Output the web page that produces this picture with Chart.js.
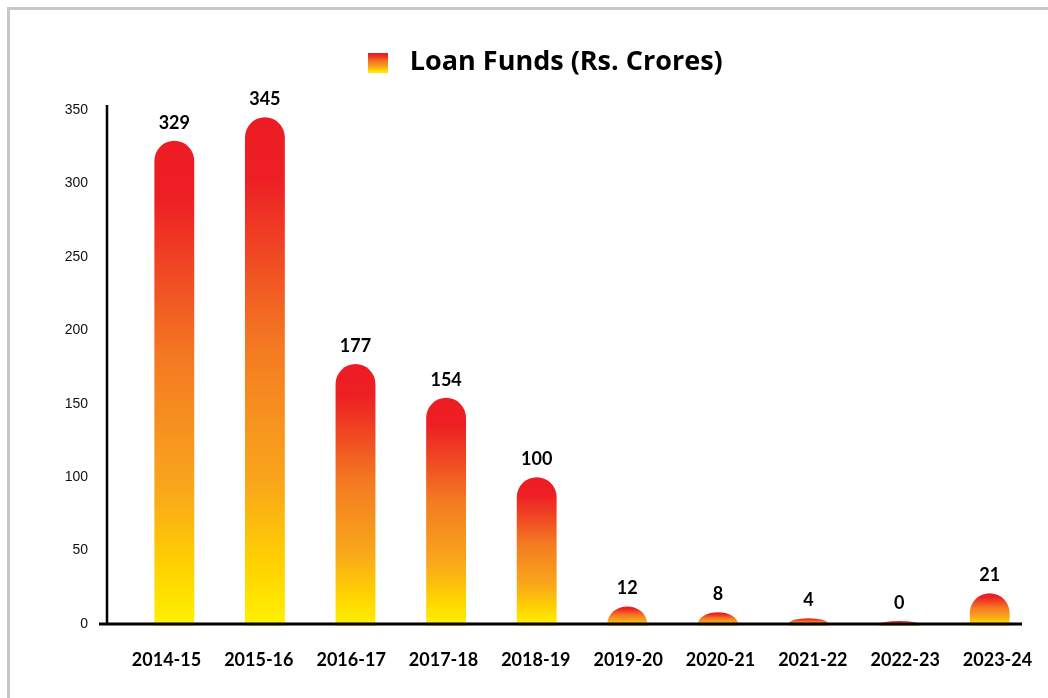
<!DOCTYPE html>
<html>
<head>
<meta charset="utf-8">
<title>Loan Funds</title>
<script src="https://cdn.jsdelivr.net/npm/chart.js@4.4.1/dist/chart.umd.min.js"></script>
<style>
  html, body { margin: 0; padding: 0; background: #fff; }
  #wrap { position: relative; width: 1048px; height: 698px; }
  #frame { position: absolute; left: 7px; top: 7px; right: 0; bottom: 0;
           border-left: 3px solid #c8c8c8; border-top: 3px solid #c8c8c8; }
  canvas { position: absolute; left: 0; top: 0; }
</style>
</head>
<body>
<div id="wrap">
  <div id="frame"></div>
  <canvas id="chart" width="1048" height="698"></canvas>
</div>
<script>
// Datos del gráfico
var years = ["2014-15", "2015-16", "2016-17", "2017-18", "2018-19", "2019-20", "2020-21", "2021-22", "2022-23", "2023-24"];
var loanFunds = [329, 345, 177, 154, 100, 12, 8, 4, 0, 21];
var yTicks = [0, 50, 100, 150, 200, 250, 300, 350];

var seriesName = "Loan Funds (Rs. Crores)";
var gradStops = [
    [0, "#ed1c24"],
    [0.12, "#ed1f24"],
    [0.45, "#f47a22"],
    [0.72, "#f9a71b"],
    [0.88, "#ffd200"],
    [1, "#fff200"]
];

function fillGradient(g) {
    gradStops.forEach(function (s) { g.addColorStop(s[0], s[1]); });
    return g;
}

// Cuadro de la leyenda con degradado
var legendBox = document.createElement("canvas");
legendBox.width = 20;
legendBox.height = 20;
var lctx = legendBox.getContext("2d");
lctx.fillStyle = fillGradient(lctx.createLinearGradient(0, 0, 0, 20));
lctx.fillRect(0, 0, 20, 20);

// Barras con tope redondeado (elíptico si la barra es baja)
var domeBars = {
    id: "domeBars",
    beforeDatasetDraw: function (chart, args) {
        var c = chart.ctx;
        args.meta.data.forEach(function (bar) {
            var p = bar.getProps(["x", "y", "base", "width"], true);
            var rx = p.width / 2;
            var top = Math.min(p.y, p.base);
            var ry = Math.min(rx, p.base - top);
            var bottom = p.base + 2;
            c.save();
            c.fillStyle = fillGradient(c.createLinearGradient(0, top, 0, bottom));
            c.beginPath();
            c.moveTo(p.x - rx, bottom);
            c.lineTo(p.x - rx, top + ry);
            c.ellipse(p.x, top + ry, rx, ry, 0, Math.PI, 2 * Math.PI);
            c.lineTo(p.x + rx, bottom);
            c.closePath();
            c.fill();
            c.restore();
        });
        return false;
    }
};

// Ejes dibujados encima de las barras
var axisLines = {
    id: "axisLines",
    afterDatasetsDraw: function (chart) {
        var a = chart.chartArea, c = chart.ctx;
        c.save();
        c.strokeStyle = "#000";
        c.lineWidth = 2.5;
        c.beginPath();
        c.moveTo(a.left - 22, a.top - 5);
        c.lineTo(a.left - 22, a.bottom);
        c.stroke();
        c.lineWidth = 3;
        c.beginPath();
        c.moveTo(a.left - 30, a.bottom);
        c.lineTo(a.right - 13, a.bottom);
        c.stroke();
        c.restore();
    }
};

// Valores encima de cada barra
var valueLabels = {
    id: "valueLabels",
    afterDatasetsDraw: function (chart) {
        var c = chart.ctx;
        var meta = chart.getDatasetMeta(0);
        c.save();
        c.font = "bold 18px Lato";
        c.fillStyle = "#000";
        c.textAlign = "center";
        c.textBaseline = "alphabetic";
        meta.data.forEach(function (bar, i) {
            var top = Math.min(bar.y, bar.base);
            c.fillText(String(loanFunds[i]), bar.x, top - 12);
        });
        c.restore();
    }
};

// Alto fijo para la leyenda
var legendHeight = {
    id: "legendHeight",
    afterInit: function (chart) {
        var lg = chart.legend;
        var fit = lg.fit;
        lg.fit = function () {
            fit.call(this);
            this.height = 71;
        };
    }
};

var ctx = document.getElementById("chart").getContext("2d");
new Chart(ctx, {
    type: "bar",
    data: {
        labels: years,
        datasets: [{
            label: seriesName,
            data: loanFunds,
            backgroundColor: "#f47a22",
            borderWidth: 0,
            minBarLength: 3,
            categoryPercentage: 1,
            barPercentage: 0.44
        }]
    },
    options: {
        responsive: false,
        animation: false,
        layout: { padding: { left: 47, right: 13, top: 39, bottom: 0 } },
        plugins: {
            legend: {
                position: "top",
                labels: {
                    usePointStyle: true,
                    pointStyle: legendBox,
                    pointStyleWidth: 37,
                    padding: 10,
                    color: "#000",
                    font: { family: "Open Sans", size: 27, weight: "bold" }
                }
            },
            tooltip: { enabled: false }
        },
        scales: {
            x: {
                display: false,
                offset: true
            },
            // eje de etiquetas, un poco más abierto que las barras
            xl: {
                type: "linear",
                position: "bottom",
                offset: false,
                min: -0.406,
                max: 9.406,
                grid: { display: false, drawTicks: false },
                border: { display: false },
                afterBuildTicks: function (scale) {
                    scale.ticks = years.map(function (y, i) { return { value: i }; });
                },
                ticks: {
                    autoSkip: false,
                    maxRotation: 0,
                    color: "#000",
                    padding: 25,
                    font: { family: "Lato", size: 18, weight: "bold" },
                    callback: function (v) { return years[v]; }
                },
                afterFit: function (scale) {
                    scale.height = 74;
                    scale.paddingLeft = 0;
                    scale.paddingRight = 0;
                }
            },
            y: {
                min: 0,
                max: 350,
                grid: { display: false, drawTicks: false },
                border: { display: false },
                afterBuildTicks: function (scale) {
                    scale.ticks = yTicks.map(function (v) { return { value: v }; });
                },
                ticks: {
                    color: "#111",
                    padding: 41,
                    font: { family: "Liberation Sans", size: 14 }
                },
                afterFit: function (scale) { scale.width = 82; }
            }
        }
    },
    plugins: [domeBars, axisLines, valueLabels, legendHeight]
});
</script>
</body>
</html>
